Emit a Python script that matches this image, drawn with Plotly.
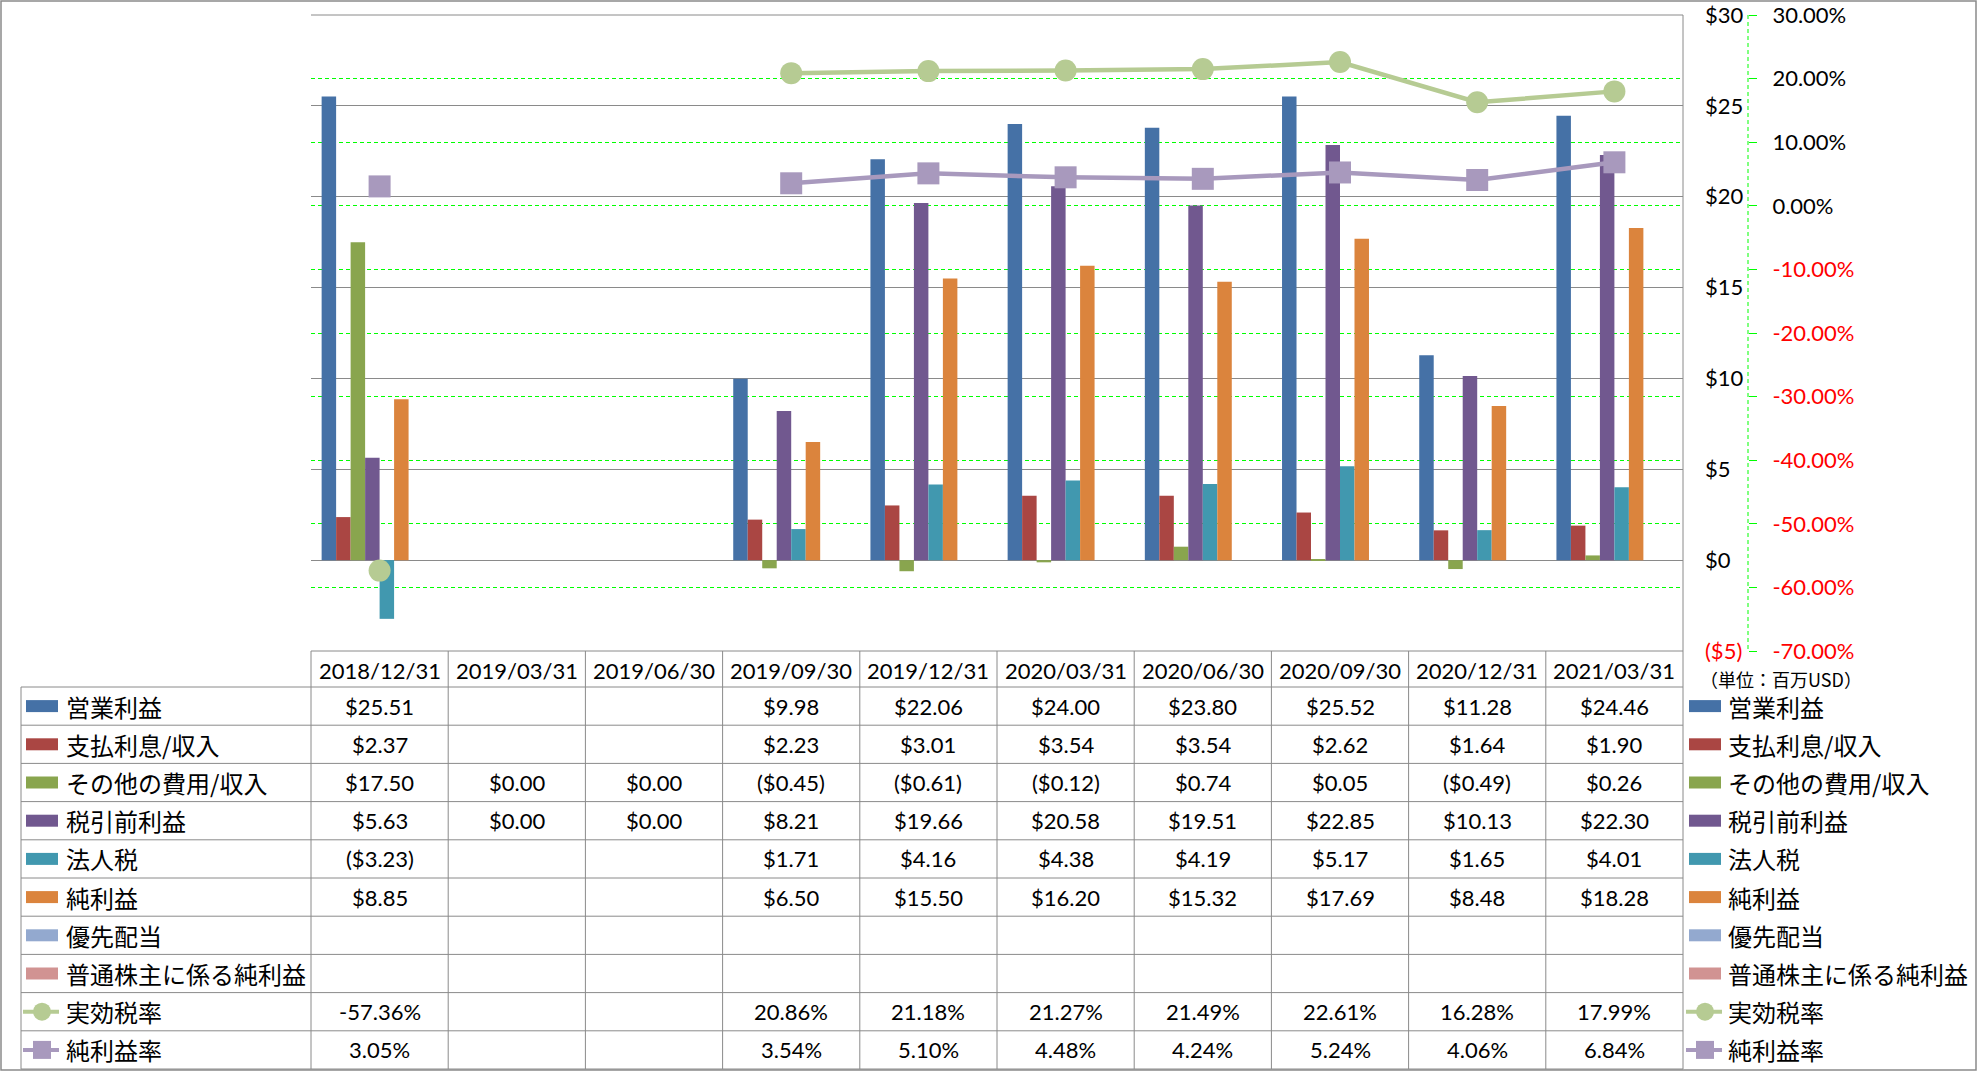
import plotly.graph_objects as go

# ---------------- data ----------------
dates = ["2018/12/31", "2019/03/31", "2019/06/30", "2019/09/30", "2019/12/31",
         "2020/03/31", "2020/06/30", "2020/09/30", "2020/12/31", "2021/03/31"]

op_income = [25.51, None, None, 9.98, 22.06, 24.00, 23.80, 25.52, 11.28, 24.46]
interest = [2.37, None, None, 2.23, 3.01, 3.54, 3.54, 2.62, 1.64, 1.90]
other_exp = [17.50, 0.00, 0.00, -0.45, -0.61, -0.12, 0.74, 0.05, -0.49, 0.26]
pretax = [5.63, 0.00, 0.00, 8.21, 19.66, 20.58, 19.51, 22.85, 10.13, 22.30]
income_tax = [-3.23, None, None, 1.71, 4.16, 4.38, 4.19, 5.17, 1.65, 4.01]
net_income = [8.85, None, None, 6.50, 15.50, 16.20, 15.32, 17.69, 8.48, 18.28]
pref_div = [None] * 10
net_common = [None] * 10
eff_tax_rate = [-57.36, None, None, 20.86, 21.18, 21.27, 21.49, 22.61, 16.28, 17.99]
net_margin = [3.05, None, None, 3.54, 5.10, 4.48, 4.24, 5.24, 4.06, 6.84]

bar_names = ["営業利益", "支払利息/収入", "その他の費用/収入", "税引前利益",
             "法人税", "純利益", "優先配当", "普通株主に係る純利益"]
bar_values = [op_income, interest, other_exp, pretax, income_tax, net_income,
              pref_div, net_common]
bar_colors = ["#4571A6", "#AA4643", "#89A54E", "#71588F", "#4198AF", "#DB843D",
              "#93A9CF", "#D19392"]
line_names = ["実効税率", "純利益率"]
line_values = [eff_tax_rate, net_margin]
line_colors = ["#B6CB93", "#A899BD"]

usd_ticks = [-5, 0, 5, 10, 15, 20, 25, 30]
pct_ticks = [-70, -60, -50, -40, -30, -20, -10, 0, 10, 20, 30]
unit_text = "（単位：百万USD）"

# ---------------- geometry (pixels) ----------------
W, H = 1977, 1071
PL, PR, PT, PB = 311, 1683, 15, 651
TBL_L = 21
HDR_B = 687
ROW_H = 38.2
N = len(dates)
COL_W = (PR - PL) / N
RED = "#FF0000"
GRAY = "#8A8A8A"
GREEN = "#00FF00"
DASH = "4px,3px"
FONT = "Lato, 'Noto Sans CJK JP', sans-serif"
JFONT = "'Noto Sans CJK JP', sans-serif"


def px(x):
    return x / W


def py(y):
    return 1 - y / H


def fmt_usd(v):
    if v is None:
        return ""
    if v < 0:
        return f"(${-v:.2f})"
    return f"${v:.2f}"


def fmt_pct(v):
    if v is None:
        return ""
    return f"{v:.2f}%"


def red(s):
    return f'<span style="color:{RED}">{s}</span>'


fig = go.Figure()

for name, vals, col in zip(bar_names, bar_values, bar_colors):
    fig.add_trace(go.Bar(x=dates, y=vals, name=name, marker_color=col,
                         marker_line_width=0, showlegend=False))

line_symbols = ["circle", "square"]
for name, vals, col, sym in zip(line_names, line_values, line_colors, line_symbols):
    fig.add_trace(go.Scatter(x=dates, y=vals, name=name, yaxis="y2",
                             mode="lines+markers", connectgaps=False,
                             line=dict(color=col, width=4.5),
                             marker=dict(symbol=sym, size=22, color=col),
                             showlegend=False))

usd_text = [red(f"(${-t})") if t < 0 else f"${t}" for t in usd_ticks]
pct_text = [red(f"{t:.2f}%") if t < 0 else f"{t:.2f}%" for t in pct_ticks]

fig.update_layout(
    width=W, height=H,
    margin=dict(l=0, r=0, t=0, b=0, pad=0, autoexpand=False),
    paper_bgcolor="white", plot_bgcolor="white",
    barmode="group", bargap=0.155, bargroupgap=0,
    font=dict(family=FONT, size=22, color="black"),
    xaxis=dict(domain=[px(PL), px(PR)], type="category", range=[-0.5, N - 0.5],
               automargin=False,
               showticklabels=False, showgrid=False, zeroline=False, showline=False),
    yaxis=dict(domain=[py(PB), py(PT)], range=[-5, 30], side="right",
               automargin=False,
               tickvals=usd_ticks, ticktext=usd_text,
               showgrid=True, gridcolor=GRAY, gridwidth=1, zeroline=False,
               showline=False, ticks="", ticklabelstandoff=21,
               tickfont=dict(size=22, family=FONT)),
    yaxis2=dict(range=[-70, 30], overlaying="y", side="right", anchor="free",
                automargin=False,
                position=px(1748), tickvals=pct_ticks, ticktext=pct_text,
                showgrid=True, gridcolor=GREEN, griddash=DASH, gridwidth=1,
                zeroline=False, showline=False, ticks="outside", ticklen=8,
                tickcolor=GREEN, tickwidth=1, ticklabelstandoff=11,
                tickfont=dict(size=22, family=FONT)),
)

shapes = []
ann = []


def hline(x0, x1, y, color=GRAY, width=1, dash=None, layer="above"):
    shapes.append(dict(type="line", xref="paper", yref="paper", x0=px(x0), x1=px(x1),
                       y0=py(y), y1=py(y), layer=layer,
                       line=dict(color=color, width=width, dash=dash)))


def vline(x, y0, y1, color=GRAY, width=1, dash=None, layer="above"):
    shapes.append(dict(type="line", xref="paper", yref="paper", x0=px(x), x1=px(x),
                       y0=py(y0), y1=py(y1), layer=layer,
                       line=dict(color=color, width=width, dash=dash)))


def add_text(x, y, text, size, family, xanchor="center"):
    ann.append(dict(x=px(x), y=py(y), xref="paper", yref="paper", text=text,
                    showarrow=False, xanchor=xanchor, yanchor="middle",
                    font=dict(size=size, family=family, color="black")))


# outer border
shapes.append(dict(type="rect", xref="paper", yref="paper", x0=px(1), x1=px(W - 1),
                   y0=py(H - 1), y1=py(1), line=dict(color=GRAY, width=1.5)))
# plot top border and right border
hline(PL, PR, PT)
vline(PR, PT, H - 2)
# secondary axis line (dashed green)
vline(1748, PT, PB, color=GREEN, width=1, dash=DASH)

# table grid
hline(PL, PR, PB)
n_rows = len(bar_names) + len(line_names)
for k in range(n_rows + 1):
    hline(TBL_L, PR, HDR_B + k * ROW_H)
vline(TBL_L, HDR_B, HDR_B + n_rows * ROW_H)
for c in range(N):
    vline(PL + c * COL_W, PB, HDR_B + n_rows * ROW_H)

# header dates
for c, d in enumerate(dates):
    add_text(PL + (c + 0.5) * COL_W, (PB + HDR_B) / 2 + 1, d, 22, FONT)

row_names = bar_names + line_names
row_texts = [[fmt_usd(v) for v in vals] for vals in bar_values] + \
            [[fmt_pct(v) for v in vals] for vals in line_values]

for r, (name, texts) in enumerate(zip(row_names, row_texts)):
    yc = HDR_B + (r + 0.5) * ROW_H
    for c, t in enumerate(texts):
        if t:
            add_text(PL + (c + 0.5) * COL_W, yc, t, 22, FONT)
    # left label and right legend label
    for lx in (64, 1726):
        add_text(lx, yc, name, 24, JFONT, xanchor="left")
    # symbols
    for sx0, sx1 in ((26, 58), (1689, 1721)):
        if r < len(bar_names):
            shapes.append(dict(type="rect", xref="paper", yref="paper",
                               x0=px(sx0), x1=px(sx1), y0=py(yc + 6), y1=py(yc - 6),
                               fillcolor=bar_colors[r], line=dict(width=0)))
        else:
            li = r - len(bar_names)
            col = line_colors[li]
            shapes.append(dict(type="line", xref="paper", yref="paper",
                               x0=px(sx0 - 3), x1=px(sx1 + 1), y0=py(yc), y1=py(yc),
                               line=dict(color=col, width=4)))
            cx = (sx0 + sx1) / 2
            stype = "circle" if li == 0 else "rect"
            shapes.append(dict(type=stype, xref="paper", yref="paper",
                               x0=px(cx - 9), x1=px(cx + 9), y0=py(yc + 9), y1=py(yc - 9),
                               fillcolor=col, line=dict(width=0)))

# unit text
add_text(1698, 679, unit_text, 18, JFONT, xanchor="left")

fig.update_layout(shapes=shapes, annotations=ann)
fig.write_html("out.html", config={"displayModeBar": False})

# remove default page margins so the figure sits at the window's top-left corner
with open("out.html", "r", encoding="utf-8") as f:
    html = f.read()
html = html.replace("<head>", "<head><style>html,body{margin:0;padding:0;overflow:hidden;}</style>", 1)
with open("out.html", "w", encoding="utf-8") as f:
    f.write(html)
